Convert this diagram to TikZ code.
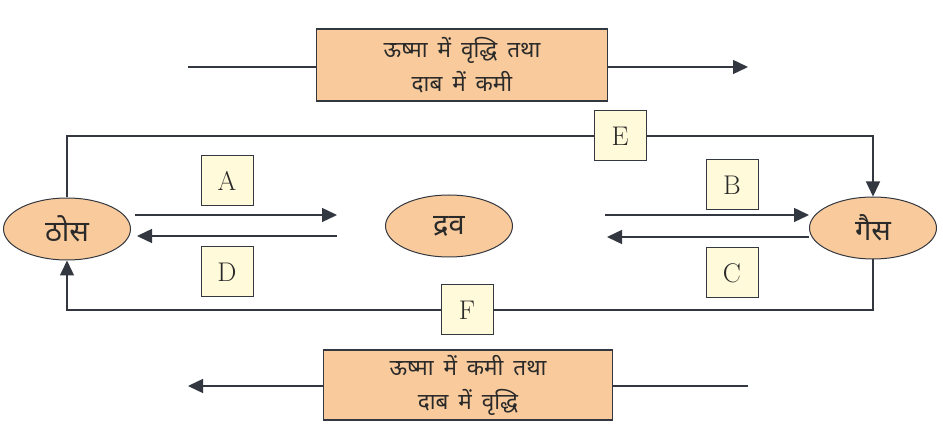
\documentclass[tikz,border=0pt]{standalone}
\usepackage{fontspec}
\newfontfamily\deva[Script=Devanagari,WordSpace=1.7]{Noto Sans}
\usetikzlibrary{shapes.geometric,arrows.meta}
\definecolor{peach}{HTML}{F9CB9C}
\definecolor{cream}{HTML}{FFFAD9}
\definecolor{ln}{HTML}{333840}
\definecolor{txt}{HTML}{2A2A2A}
\begin{document}
\begin{tikzpicture}[x=1pt,y=-1pt,
  conn/.style={draw=ln,line width=1.4pt},
  arr/.style={conn,-{Triangle[length=15pt,width=14pt]}},
  blob/.style={ellipse,draw=ln,line width=1pt,fill=peach,minimum width=127pt,minimum height=62pt,inner sep=0pt,text=txt,font=\deva\fontsize{29}{32}\selectfont},
  bigbox/.style={rectangle,draw=ln,line width=1.2pt,fill=peach,minimum width=291pt,minimum height=72pt,inner sep=0pt,align=center,text=txt,font=\deva\fontsize{22.5}{34}\selectfont},
  lbl/.style={rectangle,draw=ln,line width=1pt,fill=cream,minimum width=52pt,minimum height=50pt,inner sep=0pt,text=txt,font=\fontsize{27}{29}\selectfont}]
\useasboundingbox (0,0) rectangle (943,430);
% ellipses
\node[blob] (solid) at (67,229) {ठोस};
\node[blob] (liquid) at (449,226) {द्रव};
\node[blob] (gas) at (873,228) {गैस};
% big boxes
\node[bigbox] (top) at (462,65) {ऊष्मा में वृद्धि तथा\\दाब में कमी};
\node[bigbox,minimum width=289pt,minimum height=70pt] (bot) at (468,385) {ऊष्मा में कमी तथा\\दाब में वृद्धि};
% label boxes
\node[lbl] (A) at (227,181) {A};
\node[lbl] (D) at (227,272) {D};
\node[lbl] (B) at (732,185) {B};
\node[lbl] (C) at (732,273) {C};
\node[lbl] (E) at (620,136) {E};
\node[lbl] (F) at (467,310) {F};
% free ends
\coordinate (t0) at (188,67);
\coordinate (t1) at (748,67);
\coordinate (b0) at (748,386);
\coordinate (b1) at (188,386);
\coordinate (a0) at (135,215);
\coordinate (a1) at (337,215);
\coordinate (d0) at (337,236);
\coordinate (d1) at (137,236);
\coordinate (bb0) at (605,215);
\coordinate (c1) at (607,237);
% top & bottom arrows
\draw[conn] (t0) -- (top.west |- t0);
\draw[arr] (top.east |- t1) -- (t1);
\draw[conn] (b0) -- (bot.east |- b0);
\draw[arr] (bot.west |- b1) -- (b1);
% A / D
\draw[arr] (a0) -- (a1);
\draw[arr] (d0) -- (d1);
% B / C
\draw[arr] (bb0) -- (gas.west |- bb0);
\draw[arr] (gas.west |- c1) -- (c1);
% loop E
\draw[conn] (solid.north) |- (E.west);
\draw[arr] (E.east) -| (gas.north);
% loop F
\draw[conn] (gas.south) |- (F.east);
\draw[arr] (F.west) -| (solid.south);
\end{tikzpicture}
\end{document}
